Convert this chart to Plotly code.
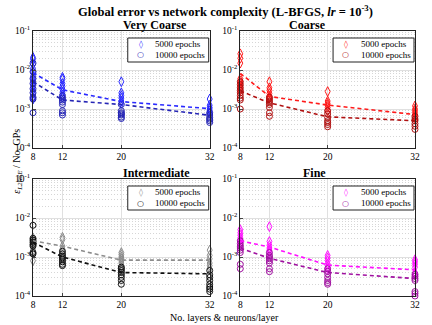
import plotly.graph_objects as go
from plotly.subplots import make_subplots

layers = [8, 12, 20, 32]
panel_titles = ["Very Coarse", "Coarse", "Intermediate", "Fine"]
series_names = ["5000 epochs", "10000 epochs"]
y_tickvals = [1e-4, 1e-3, 1e-2, 1e-1]
y_ticktext = ["10<sup>-4</sup>", "10<sup>-3</sup>", "10<sup>-2</sup>", "10<sup>-1</sup>"]

# error values per network size, one list per layer count
vc_5000 = [[2.1e-2, 1.9e-2, 1.4e-2, 1.1e-2, 9e-3, 7e-3, 6e-3, 5e-3, 4.2e-3, 3.6e-3, 3e-3, 2.5e-3, 2e-3, 1.8e-3],
           [6.5e-3, 5.8e-3, 4.5e-3, 3.8e-3, 3.2e-3, 2.7e-3, 2.3e-3, 2e-3],
           [5e-3, 2.6e-3, 2.2e-3, 1.9e-3, 1.6e-3, 1.4e-3],
           [1.8e-3, 1.25e-3, 1.1e-3, 1e-3, 9e-4, 8e-4]]
vc_10000 = [[1.5e-2, 9e-3, 6e-3, 4.5e-3, 3.3e-3, 2.6e-3, 2e-3, 1.8e-3, 8e-4],
            [2.2e-3, 1.9e-3, 1.7e-3, 1.5e-3, 1.3e-3, 9e-4, 8e-4, 7e-4],
            [1.3e-3, 9e-4, 8e-4, 7.5e-4, 7e-4, 6.2e-4, 5.7e-4],
            [8e-4, 7e-4, 6e-4, 5.5e-4, 5e-4, 4.5e-4]]
vc_5000_mean = [8.5e-3, 3.1e-3, 1.55e-3, 1.02e-3]
vc_10000_mean = [5e-3, 1.7e-3, 1.3e-3, 6.9e-4]

c_5000 = [[2.6e-2, 2e-2, 1.5e-2, 6e-3, 5.2e-3, 4.5e-3, 4e-3, 3.5e-3, 3e-3],
          [5e-3, 3.5e-3, 3e-3, 2.5e-3, 2.1e-3, 1.9e-3],
          [2.8e-3, 1.6e-3, 1.4e-3, 1.25e-3, 1.1e-3, 9e-4],
          [1.2e-3, 1e-3, 9e-4, 8e-4, 7e-4, 6e-4]]
c_10000 = [[5e-3, 4.2e-3, 3.5e-3, 3e-3, 2.6e-3, 2.2e-3, 1.9e-3, 1.7e-3, 1e-3],
           [2e-3, 1.8e-3, 1.6e-3, 1.45e-3, 1.3e-3, 1.1e-3, 8e-4, 6.5e-4],
           [9e-4, 7.5e-4, 6e-4, 5e-4, 4.5e-4, 4e-4, 3.5e-4],
           [6.5e-4, 5.5e-4, 5e-4, 4.2e-4, 3.6e-4, 3e-4]]
c_5000_mean = [8.2e-3, 2.1e-3, 1.26e-3, 7.2e-4]
c_10000_mean = [2.9e-3, 1.44e-3, 6.3e-4, 5e-4]

im_5000 = [[3.1e-3, 2.8e-3, 2.5e-3, 2.2e-3, 2e-3, 1.5e-3, 1.3e-3, 8e-4],
           [3.2e-3, 2.8e-3, 1.9e-3, 1.6e-3, 1.4e-3],
           [1.3e-3, 1.15e-3, 1e-3, 9e-4, 8e-4, 7e-4, 6e-4],
           [1.5e-3, 1.1e-3, 9e-4, 7e-4, 6e-4, 5e-4]]
im_10000 = [[6.5e-3, 3e-3, 2.7e-3, 2.4e-3, 2.1e-3, 1.9e-3, 1.3e-3, 1.2e-3],
            [1.4e-3, 1.2e-3, 1.05e-3, 9.5e-4, 8.5e-4, 7.5e-4, 6.5e-4, 6e-4],
            [5.5e-4, 5e-4, 4.5e-4, 4e-4, 3.5e-4, 3e-4, 2.5e-4, 2e-4],
            [4.5e-4, 3.5e-4, 3e-4, 2.5e-4, 2e-4, 1.7e-4, 1.5e-4, 1.3e-4]]
im_5000_mean = [2.6e-3, 1.9e-3, 8.3e-4, 8.3e-4]
im_10000_mean = [2.4e-3, 1e-3, 4e-4, 3.7e-4]

f_5000 = [[5e-3, 4.2e-3, 3.6e-3, 3.1e-3, 2.7e-3, 2.3e-3, 2e-3],
          [6e-3, 2.5e-3, 2e-3, 1.7e-3, 1.5e-3, 1.3e-3],
          [1.1e-3, 9.5e-4, 8e-4, 6.5e-4, 5.5e-4, 5e-4],
          [8.5e-4, 7.5e-4, 6.5e-4, 5.5e-4, 4e-4, 3.5e-4]]
f_10000 = [[2.6e-3, 2.2e-3, 1.9e-3, 1.7e-3, 1.5e-3, 1.3e-3, 6.5e-4, 5e-4],
           [1.3e-3, 1.1e-3, 1e-3, 9e-4, 8e-4, 7e-4, 5e-4, 4.2e-4],
           [5e-4, 4.3e-4, 3.7e-4, 3e-4, 2.5e-4, 2.2e-4, 2e-4],
           [3.6e-4, 3.2e-4, 2.8e-4, 2.5e-4, 1.3e-4, 1.15e-4, 1e-4]]
f_5000_mean = [2.6e-3, 1.8e-3, 6.2e-4, 4.7e-4]
f_10000_mean = [1.67e-3, 9.3e-4, 4e-4, 2.8e-4]

panels = [
    (vc_5000, vc_10000, vc_5000_mean, vc_10000_mean, "#2a2aff", "#2525b5"),
    (c_5000, c_10000, c_5000_mean, c_10000_mean, "#ff1a1a", "#b01010"),
    (im_5000, im_10000, im_5000_mean, im_10000_mean, "#8c8c8c", "#101010"),
    (f_5000, f_10000, f_5000_mean, f_10000_mean, "#ff10ff", "#a010a0"),
]

FONT = "Liberation Serif"

# plot area in pixels: left panels x 33-212, right 243-420; top y 31-148, bottom 179-296
W, H = 432, 325
ml, mr, mt, mb = 33, 12, 31, 29
pw, ph = W - ml - mr, H - mt - mb
xd = [[0, 179 / pw], [(243 - ml) / pw, 1]]
yd = [[1 - 117 / ph, 1], [0, 117 / ph]]

# dotted minor grid at 2..9 x 10^k
minor_vals = [m * 10.0 ** e for e in (-4, -3, -2) for m in range(2, 10)]

fig = make_subplots(rows=2, cols=2)


def spread(groups):
    xs, ys = [], []
    for lay, vals in zip(layers, groups):
        xs += [lay] * len(vals)
        ys += vals
    return xs, ys


def px_x(p):
    return p / pw


def px_y(p):
    return p / ph


for i, (s5, s10, m5, m10, col5, col10) in enumerate(panels):
    r, c = i // 2 + 1, i % 2 + 1
    x5, y5 = spread(s5)
    x10, y10 = spread(s10)
    fig.add_trace(go.Scatter(x=x5, y=y5, mode="markers", name=series_names[0],
                             marker=dict(symbol="diamond-tall-open", size=7, color=col5, line=dict(width=1)),
                             cliponaxis=False), row=r, col=c)
    fig.add_trace(go.Scatter(x=x10, y=y10, mode="markers", name=series_names[1],
                             marker=dict(symbol="circle-open", size=6, color=col10, line=dict(width=1)),
                             cliponaxis=False), row=r, col=c)
    fig.add_trace(go.Scatter(x=layers, y=m5, mode="lines",
                             line=dict(color=col5, width=1.6, dash="4px,3px")), row=r, col=c)
    fig.add_trace(go.Scatter(x=layers, y=m10, mode="lines",
                             line=dict(color=col10, width=1.6, dash="4px,3px")), row=r, col=c)

    xdom = xd[c - 1]
    ydom = yd[r - 1]
    fig.update_xaxes(domain=xdom, range=[8, 32], tickvals=layers, ticks="inside", ticklen=3,
                     showline=True, mirror=True, linecolor="#222222", linewidth=1,
                     showgrid=True, gridcolor="#e0e0e0", zeroline=False,
                     tickfont=dict(family=FONT, size=9.5, color="black"), row=r, col=c)
    fig.update_yaxes(domain=ydom, type="log", range=[-4, -1], tickvals=y_tickvals, ticktext=y_ticktext,
                     ticks="inside", ticklen=3, showline=True, mirror=True, linecolor="#222222", linewidth=1,
                     showgrid=True, gridcolor="#e0e0e0", zeroline=False,
                     minor=dict(tickvals=minor_vals, showgrid=True, gridcolor="#d6d6d6",
                                griddash="1px,2px", gridwidth=1, ticks=""),
                     tickfont=dict(family=FONT, size=9.5, color="black"), row=r, col=c)

    fig.add_annotation(text="<b>%s</b>" % panel_titles[i], xref="paper", yref="paper",
                       x=(xdom[0] + xdom[1]) / 2, y=ydom[1] + px_y(6), yanchor="middle",
                       showarrow=False, font=dict(family=FONT, size=12, color="black"))

    # legend box in the upper right corner of each panel
    bx1 = xdom[1] - px_x(1)
    bx0 = bx1 - px_x(82)
    by1 = ydom[1] - px_y(7)
    by0 = ydom[1] - px_y(31)
    fig.add_shape(type="rect", xref="paper", yref="paper", x0=bx0, x1=bx1, y0=by0, y1=by1,
                  line=dict(color="#222222", width=1), fillcolor="white", layer="above")
    for k, (sym, col, rowy) in enumerate([("◊", col5, 13), ("○", col10, 24)]):
        fig.add_annotation(text=sym, xref="paper", yref="paper", x=bx0 + px_x(13),
                           y=ydom[1] - px_y(rowy), xanchor="center", yanchor="middle", showarrow=False,
                           font=dict(family="DejaVu Sans", size=8, color=col))
        fig.add_annotation(text=series_names[k], xref="paper", yref="paper", x=bx0 + px_x(26),
                           y=ydom[1] - px_y(rowy), xanchor="left", yanchor="middle", showarrow=False,
                           font=dict(family=FONT, size=9, color="black"))

fig.add_annotation(text="<b>Global error vs network complexity (L-BFGS, <i>lr</i> = 10<sup>-3</sup>)</b>",
                   xref="paper", yref="paper", x=px_x(228 - ml), y=1 + px_y(20), yanchor="middle",
                   showarrow=False, font=dict(family=FONT, size=12.5, color="black"))
fig.add_annotation(text="No. layers &amp; neurons/layer", xref="paper", yref="paper",
                   x=px_x(227 - ml), y=-px_y(317 - mt - ph), yanchor="middle", showarrow=False,
                   font=dict(family=FONT, size=10, color="black"))
fig.add_annotation(text="<i>ε<sub>L2RSE</sub></i> / No. GPs", xref="paper", yref="paper",
                   x=-px_x(ml - 8), y=1 - px_y(161 - mt), textangle=-90, showarrow=False,
                   font=dict(family=FONT, size=10, color="black"))

fig.update_layout(width=W, height=H, margin=dict(l=ml, r=mr, t=mt, b=mb),
                  paper_bgcolor="white", plot_bgcolor="white", showlegend=False)

fig.write_html("out.html", config={"displayModeBar": False},
               post_script="document.body.style.margin='0px';")
